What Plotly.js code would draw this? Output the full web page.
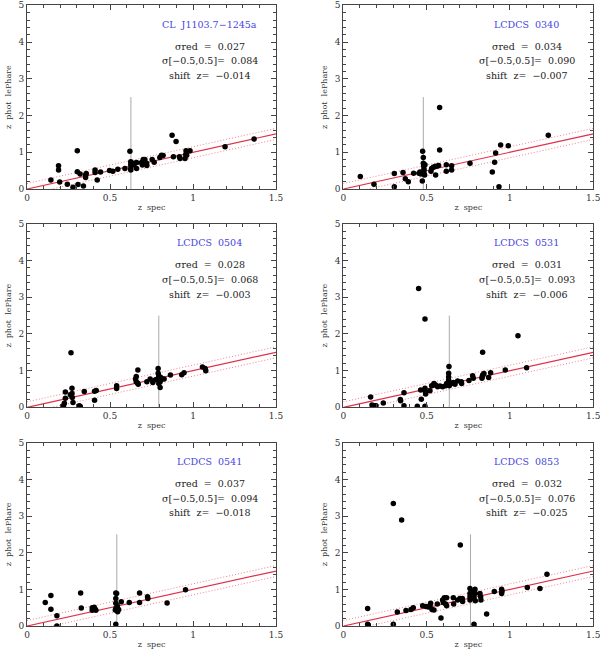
<!DOCTYPE html>
<html>
<head>
<meta charset="utf-8">
<script src="https://cdn.plot.ly/plotly-3.0.1.min.js"></script>
<style>
  html, body { margin: 0; padding: 0; background: #fff; }
  #chart { width: 600px; height: 649px; }
</style>
</head>
<body>
<div id="chart"></div>
<script>
// cluster info
const clusterNames = ['CL  J1103.7\u22121245a', 'LCDCS  0340', 'LCDCS  0504', 'LCDCS  0531', 'LCDCS  0541', 'LCDCS  0853'];
const zCluster = [0.626, 0.480, 0.794, 0.636, 0.541, 0.763];
const sigRed = ['0.027', '0.034', '0.028', '0.031', '0.037', '0.032'];
const sigOut = ['0.084', '0.090', '0.068', '0.093', '0.094', '0.076'];
const shiftZ = ['\u22120.014', '\u22120.007', '\u22120.003', '\u22120.006', '\u22120.018', '\u22120.025'];

// z spec / z phot per cluster
const zs1 = [0.144, 0.19, 0.19, 0.197, 0.243, 0.277, 0.303, 0.303, 0.307, 0.32, 0.34, 0.353, 0.353, 0.357, 0.41, 0.41, 0.423, 0.443,
  0.497, 0.517, 0.547, 0.59, 0.62, 0.625, 0.625, 0.625, 0.625, 0.627, 0.64, 0.65, 0.66, 0.66, 0.69, 0.695, 0.70, 0.71, 0.72, 0.722, 0.70,
  0.754, 0.766, 0.80, 0.81, 0.82, 0.874, 0.882, 0.898, 0.918, 0.922, 0.952, 0.956, 0.958, 0.962, 0.982, 1.193, 1.368];
const zp1 = [0.245, 0.63, 0.52, 0.19, 0.13, 0.045, 1.04, 0.47, 0.12, 0.41, 0.08, 0.31, 0.38, 0.42, 0.45, 0.52, 0.245, 0.46,
  0.50, 0.48, 0.54, 0.56, 1.03, 0.74, 0.65, 0.56, 0.52, 0.72, 0.65, 0.70, 0.56, 0.72, 0.72, 0.65, 0.75, 0.80, 0.70, 0.64, 0.80,
  0.80, 0.73, 0.86, 0.92, 0.91, 1.46, 0.88, 1.29, 0.88, 0.83, 0.83, 0.94, 1.04, 0.92, 1.04, 1.15, 1.36];

const zs2 = [0.102, 0.184, 0.306, 0.306, 0.358, 0.372, 0.39, 0.422, 0.454, 0.46, 0.466, 0.476, 0.48, 0.474, 0.48, 0.482, 0.484, 0.484,
  0.484, 0.488, 0.49, 0.526, 0.53, 0.54, 0.55, 0.56, 0.572, 0.554, 0.578, 0.578, 0.618, 0.618, 0.65, 0.65, 0.76, 0.894, 0.908, 0.914,
  0.934, 0.944, 0.99, 1.23];
const zp2 = [0.34, 0.13, 0.42, 0.06, 0.45, 0.28, 0.20, 0.43, 0.43, 0.46, 0.41, 1.03, 0.86, 0.22, 0.70, 0.63, 0.55, 0.50,
  0.43, 0.38, 0.66, 0.48, 0.56, 0.59, 0.61, 0.62, 0.64, 0.38, 2.22, 1.06, 0.66, 0.48, 0.63, 0.52, 0.70, 0.46, 0.73, 0.98,
  0.06, 1.20, 1.18, 1.46];

const zs3 = [0.265, 0.231, 0.231, 0.225, 0.22, 0.261, 0.271, 0.271, 0.273, 0.277, 0.315, 0.321, 0.345, 0.407, 0.407, 0.417, 0.54, 0.54,
  0.654, 0.658, 0.658, 0.666, 0.668, 0.67, 0.722, 0.742, 0.758, 0.774, 0.79, 0.79, 0.794, 0.79, 0.798, 0.802, 0.794, 0.806, 0.814,
  0.802, 0.826, 0.864, 0.932, 0.946, 1.057, 1.073, 1.077];
const zp3 = [1.49, 0.42, 0.25, 0.11, 0.04, 0.34, 0.52, 0.38, 0.27, 0.13, 0.04, 0.02, 0.43, 0.44, 0.19, 0.46, 0.59, 0.51,
  0.77, 0.84, 0.70, 0.66, 1.02, 0.63, 0.70, 0.77, 0.68, 0.75, 1.06, 0.93, 0.86, 0.79, 0.75, 0.70, 0.65, 0.81, 0.77,
  0.54, 0.77, 0.88, 0.89, 0.94, 1.10, 1.06, 1.00];

const zs4 = [0.452, 0.49, 1.048, 0.836, 0.164, 0.172, 0.184, 0.196, 0.24, 0.342, 0.344, 0.364, 0.364, 0.444, 0.464, 0.468, 0.49, 0.492,
  0.494, 0.49, 0.52, 0.53, 0.544, 0.554, 0.566, 0.58, 0.596, 0.634, 0.632, 0.632, 0.632, 0.632, 0.636, 0.62, 0.614, 0.65, 0.66, 0.67,
  0.686, 0.708, 0.71, 0.754, 0.776, 0.78, 0.832, 0.836, 0.844, 0.834, 0.872, 0.884, 0.972, 1.10];
const zp4 = [3.24, 2.41, 1.95, 1.50, 0.28, 0.06, 0.04, 0.04, 0.12, 0.21, 0.18, 0.40, 0.04, 0.03, 0.47, 0.22, 0.52, 0.43,
  0.36, 0.03, 0.45, 0.59, 0.65, 0.61, 0.56, 0.58, 0.56, 1.11, 0.93, 0.83, 0.74, 0.65, 0.59, 0.65, 0.59, 0.65, 0.68, 0.63,
  0.72, 0.70, 0.65, 0.73, 0.86, 0.79, 0.79, 0.88, 0.92, 0.84, 0.81, 0.94, 1.02, 1.08];

const zs5 = [0.11, 0.144, 0.144, 0.18, 0.18, 0.323, 0.327, 0.393, 0.393, 0.405, 0.411, 0.415, 0.535, 0.535, 0.535, 0.535, 0.535, 0.54,
  0.544, 0.532, 0.54, 0.552, 0.546, 0.568, 0.616, 0.678, 0.678, 0.726, 0.728, 0.844, 0.955];
const zp5 = [0.64, 0.83, 0.46, 0.28, 0.0, 0.90, 0.49, 0.50, 0.43, 0.51, 0.46, 0.43, 0.05, 0.90, 0.75, 0.62, 0.48, 0.43,
  0.55, 0.44, 0.89, 0.45, 0.39, 0.66, 0.64, 0.90, 0.64, 0.80, 0.75, 0.63, 0.99];

const zs6 = [0.30, 0.35, 0.702, 0.146, 0.15, 0.146, 0.30, 0.324, 0.376, 0.406, 0.42, 0.476, 0.496, 0.51, 0.52, 0.524, 0.532, 0.544,
  0.564, 0.586, 0.596, 0.60, 0.606, 0.614, 0.62, 0.62, 0.66, 0.662, 0.686, 0.70, 0.714, 0.716, 0.76, 0.76, 0.76, 0.76, 0.764, 0.77,
  0.776, 0.784, 0.784, 0.79, 0.792, 0.792, 0.82, 0.824, 0.826, 0.86, 0.906, 0.95, 0.952, 0.95, 1.104, 1.18, 1.222];
const zp6 = [3.34, 2.89, 2.21, 0.05, 0.03, 0.48, 0.05, 0.38, 0.42, 0.45, 0.50, 0.55, 0.53, 0.52, 0.56, 0.62, 0.45, 0.44,
  0.60, 0.22, 0.71, 0.64, 0.77, 0.60, 0.77, 0.55, 0.77, 0.60, 0.71, 0.75, 0.75, 0.67, 1.02, 0.89, 0.80, 0.71, 0.75, 0.94,
  0.85, 0.77, 0.05, 1.00, 0.89, 0.69, 0.89, 0.80, 0.71, 0.33, 0.94, 0.89, 0.95, 1.00, 1.05, 1.02, 1.41];

const zSpec = [zs1, zs2, zs3, zs4, zs5, zs6];
const zPhot = [zp1, zp2, zp3, zp4, zp5, zp6];

const lineX = [0, 1.5];
const dz = 0.15;

// panel placement (paper fractions from pixel positions)
const colDom = [[0.045, 0.46], [0.5722, 0.9888]];
const rowDom = [[0.7088, 0.9918], [0.3724, 0.6549], [0.0354, 0.3179]];

const serif = 'DejaVu Serif, Liberation Serif, serif';
const traces = [];
const layout = {
  width: 600, height: 649,
  margin: { l: 0, r: 0, t: 0, b: 0 },
  paper_bgcolor: '#fff', plot_bgcolor: '#fff',
  showlegend: false,
  font: { family: serif, size: 9, color: '#222' },
  annotations: [], shapes: []
};

for (let i = 0; i < 6; i++) {
  const n = i === 0 ? '' : String(i + 1);
  const xa = 'x' + n, ya = 'y' + n;
  const row = Math.floor(i / 2), col = i % 2;

  traces.push({ x: lineX, y: lineX.map(v => v + dz), xaxis: xa, yaxis: ya, mode: 'lines',
    line: { color: '#f08090', width: 1, dash: '1px,2px' }, hoverinfo: 'skip' });
  traces.push({ x: lineX, y: lineX.map(v => v - dz), xaxis: xa, yaxis: ya, mode: 'lines',
    line: { color: '#f08090', width: 1, dash: '1px,2px' }, hoverinfo: 'skip' });
  traces.push({ x: lineX, y: lineX, xaxis: xa, yaxis: ya, mode: 'lines',
    line: { color: '#e03048', width: 1.2 }, hoverinfo: 'skip' });
  traces.push({ x: [zCluster[i], zCluster[i]], y: [0, 2.5], xaxis: xa, yaxis: ya, mode: 'lines',
    line: { color: '#aaa', width: 1 }, hoverinfo: 'skip' });
  traces.push({ x: zSpec[i], y: zPhot[i], xaxis: xa, yaxis: ya, mode: 'markers',
    marker: { color: '#000', size: 5.5 } });

  const axCommon = {
    showgrid: false, zeroline: false, showline: true, linecolor: '#444', linewidth: 1,
    mirror: 'allticks', ticks: 'inside', ticklen: 5, tickcolor: '#444', tickwidth: 1,
    ticklabeloverflow: 'allow',
    tickfont: { family: serif, size: 9, color: '#333' }, fixedrange: true
  };
  layout['xaxis' + n] = Object.assign({}, axCommon, {
    domain: colDom[col], anchor: ya, range: [0, 1.5], tickvals: [0, 0.5, 1, 1.5], ticktext: ['0', '0.5', '1', '1.5'],
    minor: { dtick: 0.1, ticks: 'inside', ticklen: 3, tickcolor: '#444' },
    title: { text: 'z  spec', font: { family: serif, size: 8, color: '#333' }, standoff: 2 }
  });
  layout['yaxis' + n] = Object.assign({}, axCommon, {
    domain: rowDom[row], anchor: xa, range: [0, 5], tickvals: [0, 1, 2, 3, 4, 5],
    minor: { dtick: 0.2, ticks: 'inside', ticklen: 3, tickcolor: '#444' },
    title: { text: 'z  phot  lePhare', font: { family: serif, size: 8, color: '#333' }, standoff: 5 }
  });

  const ann = (y, text, color) => ({ xref: xa, yref: ya, x: 1.1, y: y, text: text, showarrow: false,
    xanchor: 'center', yanchor: 'middle', font: { family: serif, size: 9.5, color: color } });
  layout.annotations.push(ann(4.49, clusterNames[i], '#4545e0'));
  layout.annotations.push(ann(3.89, '\u03c3red  =  ' + sigRed[i], '#222'));
  layout.annotations.push(ann(3.49, '\u03c3[\u22120.5,0.5]=  ' + sigOut[i], '#222'));
  layout.annotations.push(ann(3.09, 'shift  z=  ' + shiftZ[i], '#222'));
}

Plotly.newPlot('chart', traces, layout, { staticPlot: true, displayModeBar: false });
</script>
</body>
</html>
